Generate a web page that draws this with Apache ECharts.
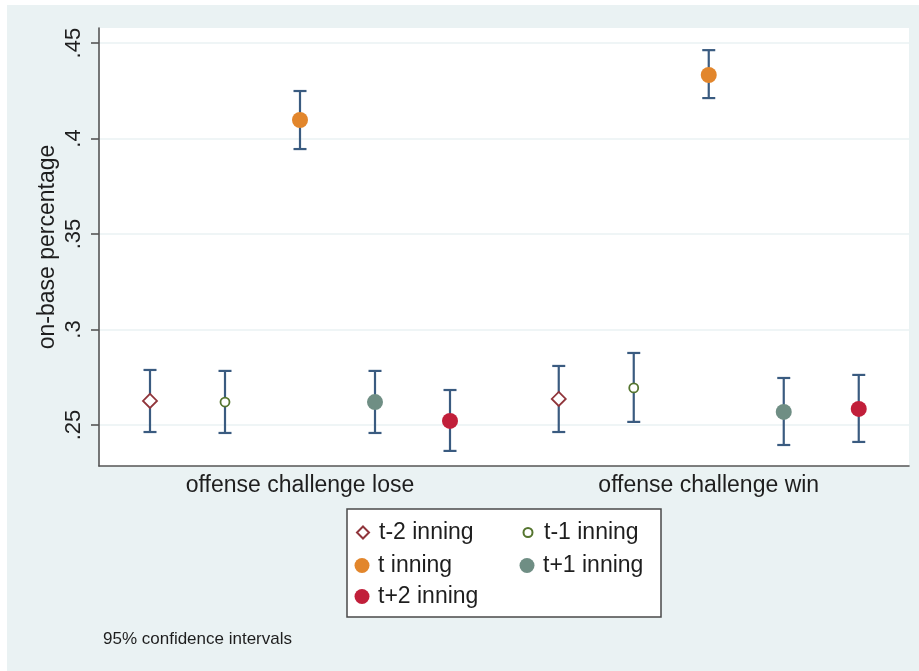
<!DOCTYPE html>
<html><head><meta charset="utf-8">
<script src="https://cdn.jsdelivr.net/npm/echarts@6/dist/echarts.min.js"></script>
<style>html,body{margin:0;padding:0;background:#fff;} #c{position:absolute;left:7px;top:5px;width:912px;height:666px;background:#eaf2f3;}</style>
</head><body><div id="c"></div>
<script>
const categories = ['offense challenge lose', 'offense challenge win'];
const seriesNames = ['t-2 inning', 't-1 inning', 't inning', 't+1 inning', 't+2 inning'];
// values per category [lose, win]
const meanTm2 = [0.2626, 0.2636];
const lowTm2  = [0.2463, 0.2463];
const highTm2 = [0.2788, 0.2809];
const meanTm1 = [0.2620, 0.2694];
const lowTm1  = [0.2458, 0.2516];
const highTm1 = [0.2783, 0.2877];
const meanT   = [0.4097, 0.4333];
const lowT    = [0.3945, 0.4212];
const highT   = [0.4249, 0.4463];
const meanTp1 = [0.2620, 0.2568];
const lowTp1  = [0.2458, 0.2395];
const highTp1 = [0.2783, 0.2746];
const meanTp2 = [0.2521, 0.2584];
const lowTp2  = [0.2364, 0.2411];
const highTp2 = [0.2683, 0.2762];
const yTicks = [0.25, 0.30, 0.35, 0.40, 0.45];
const yTickLabels = ['.25', '.3', '.35', '.4', '.45'];
const footnote = '95% confidence intervals';
const yTitle = 'on-base percentage';

const means = [meanTm2, meanTm1, meanT, meanTp1, meanTp2];
const lows = [lowTm2, lowTm1, lowT, lowTp1, lowTp2];
const highs = [highTm2, highTm1, highT, highTp1, highTp2];

// layout of slots along x
const GROUP_STEP = 5.45;
function xPos(g, s) { return g * GROUP_STEP + s + 1; }
const groupCenters = categories.map((c, g) => xPos(g, 2));

const ciColor = '#3a5b80';
const styles = [
  { symbol: 'diamond', size: 14, itemStyle: { color: '#ffffff', borderColor: '#90353b', borderWidth: 1.8, opacity: 1 }, legendSize: 12 },
  { symbol: 'circle', size: 9, itemStyle: { color: '#ffffff', borderColor: '#55752f', borderWidth: 1.8, opacity: 1 }, legendSize: 9 },
  { symbol: 'circle', size: 16, itemStyle: { color: '#e2862c', opacity: 1 }, legendSize: 15 },
  { symbol: 'circle', size: 16, itemStyle: { color: '#6f8e84', opacity: 1 }, legendSize: 15 },
  { symbol: 'circle', size: 16, itemStyle: { color: '#c11f3a', opacity: 1 }, legendSize: 15 }
];

const ciData = [];
seriesNames.forEach((n, s) => categories.forEach((c, g) => {
  ciData.push([xPos(g, s), lows[s][g], highs[s][g]]);
}));

const series = [{
  type: 'custom',
  name: 'ci',
  z: 1,
  silent: true,
  data: ciData,
  encode: { x: 0, y: [1, 2] },
  renderItem: function (params, api) {
    const x = api.value(0);
    const p1 = api.coord([x, api.value(1)]);
    const p2 = api.coord([x, api.value(2)]);
    const cap = 6.5;
    const st = { stroke: ciColor, lineWidth: 2.2 };
    return {
      type: 'group',
      children: [
        { type: 'line', shape: { x1: p1[0], y1: p1[1], x2: p2[0], y2: p2[1] }, style: st },
        { type: 'line', shape: { x1: p1[0] - cap, y1: p1[1], x2: p1[0] + cap, y2: p1[1] }, style: st },
        { type: 'line', shape: { x1: p2[0] - cap, y1: p2[1], x2: p2[0] + cap, y2: p2[1] }, style: st }
      ]
    };
  }
}];
seriesNames.forEach((n, s) => {
  series.push({
    type: 'scatter',
    name: n,
    z: 3,
    symbol: styles[s].symbol,
    symbolSize: styles[s].size,
    itemStyle: styles[s].itemStyle,
    data: categories.map((c, g) => [xPos(g, s), means[s][g]])
  });
});

// legend layout: two columns
const legCols = [355, 520];
const legRows = [528, 561, 592];
const legPlace = [[0, 0], [1, 0], [0, 1], [1, 1], [0, 2]];
const legends = seriesNames.map((n, s) => {
  const sz = styles[s].legendSize;
  const col = legPlace[s][0], row = legPlace[s][1];
  return {
    data: [n],
    orient: 'horizontal',
    left: legCols[col] - sz / 2,
    top: legRows[row] - 12,
    padding: 0,
    itemWidth: sz,
    itemHeight: sz,
    selectedMode: false,
    textStyle: { fontFamily: 'Liberation Sans, Arial, sans-serif', fontSize: 23, color: '#1e1e1e', padding: [0, 0, 0, Math.max(0, 11 - sz / 2)] }
  };
});

const chart = echarts.init(document.getElementById('c'), null, { renderer: 'canvas' });
chart.setOption({
  backgroundColor: '#eaf2f3',
  animation: false,
  grid: { left: 92, top: 23, width: 810, height: 438, show: true, backgroundColor: '#ffffff', borderWidth: 0 },
  xAxis: {
    type: 'value', min: 0.32, max: 11.12,
    axisLine: { show: true, onZero: false, lineStyle: { color: '#555555', width: 1.6 } },
    axisTick: { show: false },
    splitLine: { show: false },
    axisLabel: {
      customValues: groupCenters,
      margin: 8,
      fontFamily: 'Liberation Sans, Arial, sans-serif', fontSize: 23, color: '#1e1e1e',
      formatter: function (v) {
        let best = 0;
        groupCenters.forEach((gc, i) => { if (Math.abs(gc - v) < Math.abs(groupCenters[best] - v)) best = i; });
        return categories[best];
      }
    }
  },
  yAxis: {
    type: 'value', min: 0.2285, max: 0.4579,
    name: yTitle, nameLocation: 'middle', nameGap: 40, nameMoveOverlap: false,
    nameTextStyle: { fontFamily: 'Liberation Sans, Arial, sans-serif', fontSize: 23, color: '#1e1e1e' },
    axisLine: { show: true, lineStyle: { color: '#555555', width: 1.6 } },
    axisTick: { show: true, customValues: yTicks, length: 8, lineStyle: { color: '#555555', width: 1.6 } },
    splitLine: { show: true, customValues: yTicks, lineStyle: { color: '#eaf2f3', width: 1.6 } },
    axisLabel: {
      customValues: yTicks, rotate: 90, margin: 14,
      fontFamily: 'Liberation Sans, Arial, sans-serif', fontSize: 22, color: '#1e1e1e',
      formatter: function (v) {
        let best = 0;
        yTicks.forEach((t, i) => { if (Math.abs(t - v) < Math.abs(yTicks[best] - v)) best = i; });
        return yTickLabels[best];
      }
    }
  },
  legend: legends,
  graphic: [
    { type: 'rect', z: 0, shape: { x: 340, y: 504, width: 314, height: 108 }, style: { fill: '#ffffff', stroke: '#4a4a4a', lineWidth: 1.5 } },
    { type: 'text', z: 1, left: 96, top: 626, style: { text: footnote, fontFamily: 'Liberation Sans, Arial, sans-serif', fontSize: 17, fill: '#1e1e1e' } }
  ],
  series: series
});
</script></body></html>
